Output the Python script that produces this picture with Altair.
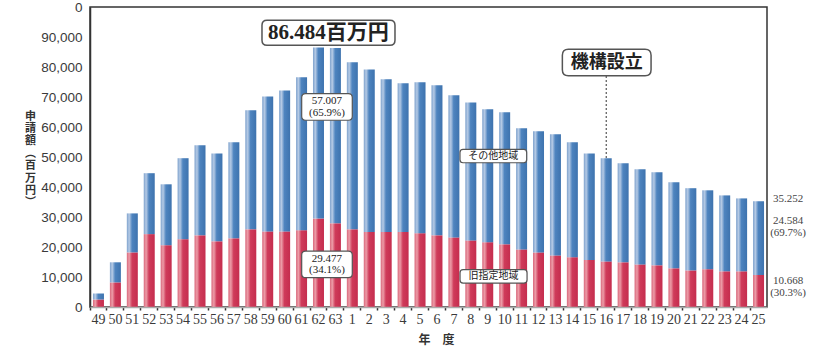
import altair as alt
import pandas as pd

# ---- data ----
years = ["49", "50", "51", "52", "53", "54", "55", "56", "57", "58", "59", "60", "61", "62", "63",
         "1", "2", "3", "4", "5", "6", "7", "8", "9", "10", "11", "12", "13", "14", "15",
         "16", "17", "18", "19", "20", "21", "22", "23", "24", "25"]
total = [4500, 14900, 31200, 44600, 40900, 49600, 53900, 51200, 54900, 65600, 70200, 72200, 76600, 86484, 86300,
         81600, 79200, 75900, 74600, 74900, 73900, 70600, 68200, 65900, 64900, 59600, 58600, 57600, 54900, 51200,
         49600, 47900, 45900, 44900, 41600, 39600, 38900, 37200, 36200, 35252]
red = [2500, 8200, 18200, 24300, 20600, 22600, 23900, 21900, 22900, 25900, 25200, 25200, 25600, 29477, 27900,
       25900, 25000, 25000, 25000, 24600, 23900, 23200, 22200, 21600, 20900, 19200, 18200, 17200, 16600, 15700,
       15200, 14900, 14200, 13900, 12900, 12200, 12600, 11900, 11900, 10668]

ann_text = ["86.484百万円", "57.007\n(65.9%)", "その他地域", "29.477\n(34.1%)", "旧指定地域", "機構設立"]
ann_year = ["62", "62", "9", "62", "9", "16"]
ann_value = [91400, 66700, 50300, 14200, 10200, 81500]

side_text = ["35.252", "24.584\n(69.7%)", "10.668\n(30.3%)"]
side_value = [35900, 26700, 6700]

est_year = "16"
est_line_top = 77000

y_ticks = [0, 10000, 20000, 30000, 40000, 50000, 60000, 70000, 80000, 90000, 100000]

df = pd.DataFrame({"year": years, "total": total, "red": red})
ann = pd.DataFrame({"year": ann_year, "value": ann_value, "label": ann_text})
side = pd.DataFrame({"year": ["25"] * len(side_text), "value": side_value, "label": side_text})
est = pd.DataFrame({"year": [est_year], "top": [est_line_top], "bar": [total[years.index(est_year)]]})

# ---- scales / axes ----
xscale = alt.Scale(domain=years, paddingInner=0.35, paddingOuter=0.175)
yscale = alt.Scale(domain=[0, 100000], nice=False)

xaxis = alt.Axis(
    title="年　度", labelAngle=0, bandPosition=-0.2692,
    labelFont="Liberation Sans Narrow", labelFontSize=14, labelColor="#3a3a3a", labelPadding=2,
    tickColor="#333333", tickSize=3, tickWidth=1.5,
    domainColor="#aaaaaa", domainWidth=1.5, zindex=1,
    titleFont="Noto Sans CJK JP", titleFontSize=12, titleFontWeight="bold", titleColor="#333333",
    titleX=346, titleY=32, titleBaseline="middle", titleAlign="center",
)
yaxis = alt.Axis(
    title=["申", "請", "額", "︵", "百", "万", "円", "︶"], values=y_ticks,
    labelExpr="datum.value == 100000 ? '0' : format(datum.value, ',')",
    labelFont="Liberation Sans", labelFontSize=13.5, labelColor="#3a3a3a", labelPadding=8,
    ticks=False, grid=False, domainColor="#333333", domainWidth=1.5,
    titleFont="Noto Sans CJK JP", titleFontSize=11, titleFontWeight="bold", titleColor="#333333",
    titleAngle=0, titleX=-60, titleY=109, titleAlign="center", titleBaseline="middle", titleLineHeight=12.4,
)


def X():
    return alt.X("year:N", scale=xscale, axis=xaxis)


def Y(field):
    return alt.Y(f"{field}:Q", scale=yscale, axis=yaxis)


def grad(c0, c1, c2, c3):
    return alt.Gradient(
        gradient="linear", x1=0, x2=1, y1=0, y2=0,
        stops=[alt.GradientStop(offset=0, color=c0), alt.GradientStop(offset=0.22, color=c1),
               alt.GradientStop(offset=0.48, color=c2), alt.GradientStop(offset=1, color=c3)],
    )


red_bars = alt.Chart(df).mark_bar(color=grad("#d9687c", "#ec9ca7", "#cf3b5a", "#c52d4e")).encode(
    x=X(), y=Y("red"), y2=alt.datum(0)
)
blue_bars = alt.Chart(df).mark_bar(color=grad("#7ea2cd", "#b5cae5", "#4e84bf", "#3e73ae")).encode(
    x=X(), y=Y("total"), y2="red"
)
est_rule = alt.Chart(est).mark_rule(strokeDash=[2, 2], color="#333333", strokeWidth=1).encode(
    x=X(), y=Y("top"), y2="bar"
)


def box_path(w, h, r):
    hh = h / w
    rr = 2 * r / w
    return (f"M{-1 + rr},{-hh} L{1 - rr},{-hh} Q1,{-hh} 1,{-hh + rr} L1,{hh - rr} "
            f"Q1,{hh} {1 - rr},{hh} L{-1 + rr},{hh} Q-1,{hh} -1,{hh - rr} L-1,{-hh + rr} "
            f"Q-1,{-hh} {-1 + rr},{-hh} Z")


def text_layer(d, dx, font, size, weight, color, lh):
    n = d["label"].iloc[0].count("\n") + 1
    return alt.Chart(d).mark_text(
        font=font, fontSize=size, fontWeight=weight, color=color, lineBreak="\n",
        lineHeight=lh, align="center", baseline="middle", xOffset=dx, yOffset=-(n - 1) * lh / 2,
    ).encode(x=X(), y=Y("value"), text="label:N")


def note(i, w, h, r, dx, font, size, weight, sw=1.2, lh=11.5):
    d = ann.iloc[[i]]
    box = alt.Chart(d).mark_point(
        shape=box_path(w, h, r), size=w * w, filled=True, fill="white", stroke="#555555",
        strokeWidth=sw, opacity=1, xOffset=dx,
    ).encode(x=X(), y=Y("value"))
    return [box, text_layer(d, dx, font, size, weight, "#222222", lh)]


serif = "Liberation Serif, Noto Sans CJK JP"
cjk = "Noto Sans CJK JP"
layers = [red_bars, blue_bars, est_rule]
layers += note(0, 133, 25, 5, 10, serif, 21, "bold", sw=1.5)
layers += note(1, 50.6, 26.7, 4, 8.5, serif, 11, "normal")
layers += note(2, 66.7, 13.3, 3, 5.6, cjk, 10, "normal")
layers += note(3, 50.6, 26.6, 4, 8.5, serif, 11, "normal")
layers += note(4, 67, 13.4, 3, 5.8, cjk, 10, "normal")
layers += note(5, 88.7, 26.7, 6, 0.5, cjk, 18, "bold", sw=1.5)

for i in range(len(side)):
    layers.append(text_layer(side.iloc[[i]], 29.5, "Liberation Serif", 11, "normal", "#444444", 11.5))

chart = alt.layer(*layers).properties(
    width=677, height=300,
    autosize=alt.AutoSizeParams(type="none"),
    padding={"left": 90, "top": 7, "right": 62, "bottom": 39},
    background="white",
).configure_view(stroke="#333333", strokeWidth=1.5)

chart.save("out.html", embed_options={"renderer": "svg", "actions": False})
